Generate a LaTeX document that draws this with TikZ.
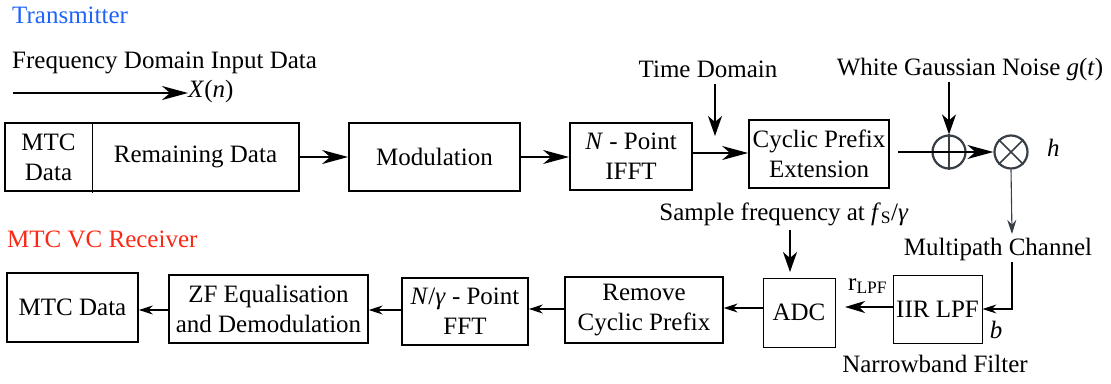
\documentclass[tikz,border=0pt]{standalone}
\usepackage{fontspec}
\IfFontExistsTF{LiberationSerif-Regular.ttf}{%
  \setmainfont{LiberationSerif-Regular.ttf}[ItalicFont=LiberationSerif-Italic.ttf,BoldFont=LiberationSerif-Bold.ttf]}{%
  \setmainfont{Liberation Serif}}
\usetikzlibrary{arrows.meta}
\definecolor{txblue}{RGB}{30,100,250}
\definecolor{rxred}{RGB}{250,40,20}
\definecolor{ringgray}{RGB}{55,62,70}
\begin{document}
\begin{tikzpicture}[x=1pt,y=-1pt,
  every node/.style={font=\fontsize{25}{30}\selectfont},
  blk/.style={draw, line width=1.8pt, inner sep=0pt, align=center},
  thinblk/.style={blk, line width=0.9pt},
  lbl/.style={inner sep=0pt},
  bigtip/.style={-{Stealth[length=26pt,width=14pt,inset=8pt]}, line width=1.6pt},
  downtip/.style={-{Stealth[length=20pt,width=14pt,inset=6pt]}, line width=1.6pt},
  smalltip/.style={-{Stealth[length=14pt,width=9pt,inset=4.5pt]}, line width=1.1pt},
  ring/.style={circle, draw=ringgray, line width=2.2pt, minimum size=33pt, inner sep=0pt},
]
\useasboundingbox (0,0) rectangle (1111,383);

% ---------------- transmitter ----------------
\node[lbl, anchor=base west, text=txblue] (txlabel) at (12,23) {Transmitter};
\node[lbl, anchor=base west] (fdin) at (12,68) {Frequency Domain Input Data};
\node[lbl, anchor=base west] (xn) at (188,97) {\textit{X}(\textit{n})};
\coordinate (xstart) at (13,93);
\draw[bigtip] (xstart) -- (xn.west |- xstart);

% input data frame: MTC cell and remaining data
\node[lbl, minimum width=87pt, minimum height=68pt, align=center] (mtc) at (48.5,157) {MTC\\Data};
\node[lbl, minimum width=207pt, minimum height=68pt] (rem) at (195.5,157) {\raisebox{3pt}{Remaining Data}};
\draw[line width=1.8pt] (mtc.north west) rectangle (rem.south east);
\draw[line width=0.9pt] (mtc.north east) -- ([yshift=-2pt]mtc.south east);

\node[blk, minimum width=171pt, minimum height=68pt] (mod) at (434.5,157) {Modulation};
\node[blk, minimum width=122pt, minimum height=67pt] (ifft) at (631,156.5) {\textit{N} - Point\\IFFT};
\node[blk, minimum width=140pt, minimum height=68pt] (cp) at (819,154) {Cyclic Prefix\\Extension};

\draw[bigtip] (rem.east) -- (mod.west);
\draw[bigtip] (mod.east) -- (mod.east -| ifft.west);
\draw[bigtip] (ifft.east |- 0,153) -- (cp.west |- 0,153);

% time domain marker
\node[lbl, anchor=base] (td) at (708,77) {Time Domain};
\coordinate (tda) at (715,84);
\coordinate (tdb) at (715,136);
\draw[downtip] (tda) -- (tdb);

% noise adder and channel multiplier
\node[ring] (plus) at (949,152) {};
\node[ring] (times) at (1011,152) {};
\draw[ringgray, line width=1.6pt] (plus.north) -- (plus.south);
\draw[ringgray, line width=1.6pt] (times.45) -- (times.225) (times.135) -- (times.315);
\coordinate (cpout) at (898,152);
\draw[bigtip] (cpout) -- (times.west);

\node[lbl, anchor=base] (wgn) at (970,75) {White Gaussian Noise \textit{g}(\textit{t})};
\coordinate (wgna) at (949,82);
\draw[downtip] (wgna) -- (plus.north);
\node[lbl, anchor=base west] (h) at (1047,156) {\textit{h}};

% ---------------- channel ----------------
\node[lbl, anchor=base] (mpc) at (998,255) {Multipath Channel};
\coordinate (mpin) at (1012,234);
\coordinate (mpout) at (1012,262);
\draw[smalltip, draw=ringgray] (times.south) -- (mpin);

% ---------------- receiver ----------------
\node[lbl, anchor=base west, text=rxred] (rxlabel) at (7,247) {MTC VC Receiver};

\node[thinblk, minimum width=89pt, minimum height=68pt] (iir) at (937.5,309) {IIR LPF};
\node[thinblk, minimum width=72pt, minimum height=69pt] (adc) at (799,312.5) {ADC};
\node[blk, line width=1.4pt, minimum width=158pt, minimum height=66pt] (rcp) at (644,310) {Remove\\Cyclic Prefix};
\node[blk, minimum width=126pt, minimum height=67pt] (fft) at (465,311.5) {\textit{N}/\textit{γ} - Point\\FFT};
\node[blk, line width=1.4pt, minimum width=199pt, minimum height=68pt] (zf) at (268.5,309) {ZF Equalisation\\and Demodulation};
\node[blk, minimum width=131pt, minimum height=69pt] (mtcout) at (72.5,307.5) {MTC Data};

\draw[smalltip] (mpout) |- (iir.east);
\coordinate (adcin) at (845,307);
\draw[-{Stealth[length=20pt,width=12pt,inset=6pt]}, line width=1.5pt] (iir.west |- adcin) -- (adcin);
\node[lbl, anchor=base west] (rlpf) at (848,290) {r\textsubscript{LPF}};
\node[lbl, anchor=base] (bb) at (996,338) {\textit{b}};
\node[lbl, anchor=base] (nbf) at (935,372) {Narrowband Filter};

\node[lbl, anchor=base] (sf) at (784,220) {Sample frequency at \textit{f}\textsubscript{S}/\textit{γ}};
\coordinate (sfa) at (790,230);
\coordinate (sfb) at (790,272);
\draw[downtip] (sfa) -- (sfb);

\draw[smalltip] (adc.west |- 0,308) -- (rcp.east |- 0,308);
\draw[smalltip] (rcp.west |- 0,309) -- (fft.east |- 0,309);
\draw[smalltip] (fft.west |- 0,310) -- (zf.east |- 0,310);
\draw[smalltip] (zf.west |- 0,310) -- (mtcout.east |- 0,310);
\end{tikzpicture}
\end{document}
